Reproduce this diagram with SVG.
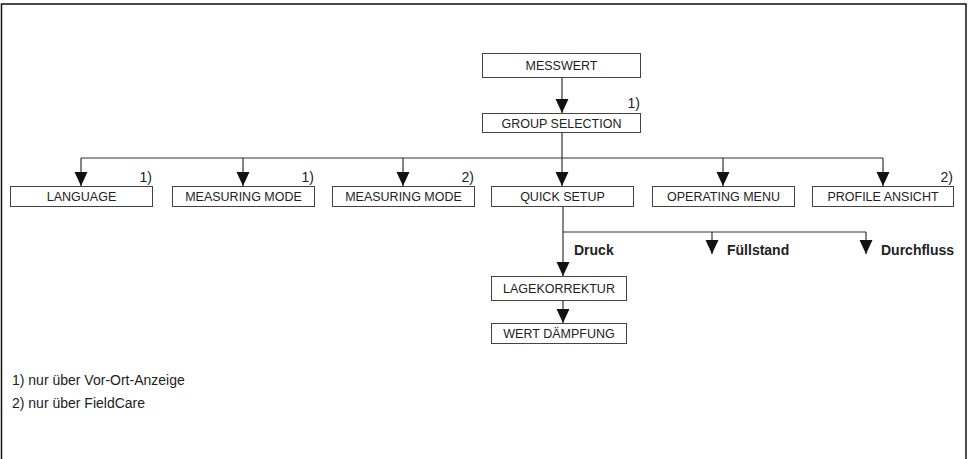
<svg xmlns="http://www.w3.org/2000/svg" width="969" height="459" viewBox="0 0 969 459">
<style>
.box{fill:#fff;stroke:#444;stroke-width:1}
.t{font-family:"Liberation Sans",Arial,sans-serif;font-size:12.5px;fill:#222;text-anchor:middle}
.n{font-family:"Liberation Sans",Arial,sans-serif;font-size:14px;fill:#222;text-anchor:end}
.b{font-family:"Liberation Sans",Arial,sans-serif;font-size:14px;font-weight:bold;fill:#222}
.f{font-family:"Liberation Sans",Arial,sans-serif;font-size:14px;fill:#222}
.c{fill:none;stroke:#333;stroke-width:1.2}
</style>
<defs>
<marker id="ad" markerUnits="userSpaceOnUse" markerWidth="14" markerHeight="14" viewBox="-6 0 12 13" refX="0" refY="13" orient="0">
<path d="M-6,0 L6,0 L0,13 Z" fill="#111"/>
</marker>
</defs>
<rect x="1.5" y="4" width="964.5" height="470" fill="none" stroke="#111" stroke-width="1.5"/>
<g id="connectors">
<path class="c" d="M562,78 V113" marker-end="url(#ad)"/>
<path class="c" d="M562,132 V186" marker-end="url(#ad)"/>
<path class="c" d="M81,158 H883"/>
<path class="c" d="M81,158 V186" marker-end="url(#ad)"/>
<path class="c" d="M243,158 V186" marker-end="url(#ad)"/>
<path class="c" d="M403,158 V186" marker-end="url(#ad)"/>
<path class="c" d="M723,158 V186" marker-end="url(#ad)"/>
<path class="c" d="M883,158 V186" marker-end="url(#ad)"/>
<path class="c" d="M563,207 V276" marker-end="url(#ad)"/>
<path class="c" d="M563,232 H866"/>
<path class="c" d="M712,232 V254" marker-end="url(#ad)"/>
<path class="c" d="M866,232 V254" marker-end="url(#ad)"/>
<path class="c" d="M563,300 V323" marker-end="url(#ad)"/>
</g>
<g id="messwert"><rect class="box" x="482.5" y="53.5" width="158" height="24"/><text class="t" x="561.5" y="70">MESSWERT</text></g>
<g id="group-selection"><rect class="box" x="482.5" y="113.5" width="158" height="19"/><text class="t" x="561.5" y="127.5">GROUP SELECTION</text><text class="n" x="640" y="108">1)</text></g>
<g id="language"><rect class="box" x="10.5" y="186.5" width="142" height="20"/><text class="t" x="81.5" y="201">LANGUAGE</text><text class="n" x="152" y="182">1)</text></g>
<g id="measuring-mode-1"><rect class="box" x="172.5" y="186.5" width="142" height="20"/><text class="t" x="243.5" y="201">MEASURING MODE</text><text class="n" x="314" y="182">1)</text></g>
<g id="measuring-mode-2"><rect class="box" x="332.5" y="186.5" width="142" height="20"/><text class="t" x="403.5" y="201">MEASURING MODE</text><text class="n" x="474" y="182">2)</text></g>
<g id="quick-setup"><rect class="box" x="491.5" y="186.5" width="142" height="20"/><text class="t" x="562.5" y="201">QUICK SETUP</text></g>
<g id="operating-menu"><rect class="box" x="652.5" y="186.5" width="142" height="20"/><text class="t" x="723.5" y="201">OPERATING MENU</text></g>
<g id="profile-ansicht"><rect class="box" x="812.5" y="186.5" width="141" height="20"/><text class="t" x="883" y="201">PROFILE ANSICHT</text><text class="n" x="953" y="182">2)</text></g>
<g id="druck"><text class="b" x="574" y="255">Druck</text></g>
<g id="fuellstand"><text class="b" x="727" y="255">Füllstand</text></g>
<g id="durchfluss"><text class="b" x="881" y="255">Durchfluss</text></g>
<g id="lagekorrektur"><rect class="box" x="491.5" y="276.5" width="135" height="24"/><text class="t" x="559" y="293">LAGEKORREKTUR</text></g>
<g id="wert-daempfung"><rect class="box" x="491.5" y="323.5" width="135" height="20"/><text class="t" x="559" y="338">WERT DÄMPFUNG</text></g>
<g id="footnotes"><text class="f" x="12" y="385">1) nur über Vor-Ort-Anzeige</text><text class="f" x="12" y="408">2) nur über FieldCare</text></g>
</svg>
